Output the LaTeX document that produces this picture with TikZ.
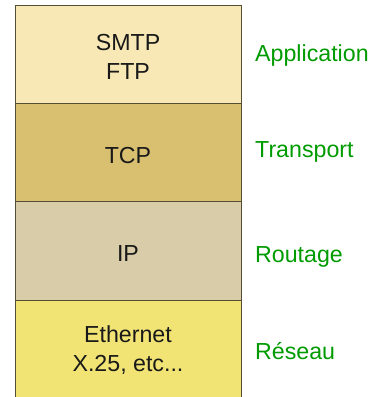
\documentclass[tikz,border=0pt]{standalone}
\usepackage{fontspec}
\setmainfont{Liberation Sans}
\usetikzlibrary{shapes}

\definecolor{appcol}{RGB}{247,232,181}
\definecolor{tcpcol}{RGB}{217,192,112}
\definecolor{ipcol}{RGB}{216,205,168}
\definecolor{netcol}{RGB}{241,228,117}
\definecolor{edgecol}{RGB}{85,78,55}
\definecolor{labcol}{RGB}{0,155,0}

\tikzset{
  layer/.style={shape=rectangle,draw=edgecol,line width=0.8pt,
    minimum width=226pt,minimum height=98.3pt,inner sep=0pt},
  proto/.style={align=center,inner sep=0pt,text=black!90,
    font=\fontsize{23.2}{29}\selectfont},
  lname/.style={anchor=base west,text=labcol,inner sep=0pt,
    font=\fontsize{23.2}{28}\selectfont}
}

\begin{document}
\begin{tikzpicture}[x=1pt,y=-1pt]
\useasboundingbox (0,0) rectangle (372,397);
\node[layer,fill=appcol] (0) at (128,54.4) {};
\node[layer,fill=tcpcol] (1) at (128,152.6) {};
\node[layer,fill=ipcol] (2) at (128,250.9) {};
\node[layer,fill=netcol] (3) at (128,349.2) {};

\node[proto] (4) at (128,56.7) {SMTP\\FTP};
\node[proto] (5) at (128,155.3) {TCP};
\node[proto] (6) at (128,253.3) {IP};
\node[proto] (7) at (128,350.4) {Ethernet\\X.25, etc...};

\node[lname] (8) at (255,61) {Application};
\node[lname] (9) at (255,157.3) {Transport};
\node[lname] (10) at (255,262.3) {Routage};
\node[lname] (11) at (255,359) {Réseau};
\end{tikzpicture}
\end{document}
